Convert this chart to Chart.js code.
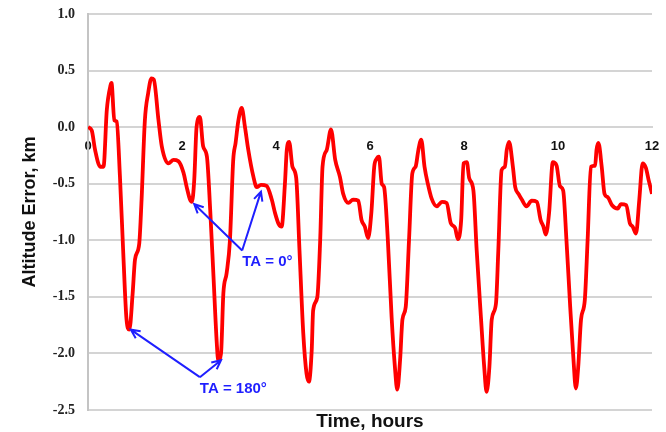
<!DOCTYPE html>
<html lang="en">
<head>
    <meta charset="UTF-8">
    <title>Altitude Error</title>
    <script src="https://cdn.jsdelivr.net/npm/chart.js"></script>
    <style>
        html, body { margin: 0; padding: 0; background: #fff; }
        #wrap { width: 666px; height: 432px; }
    </style>
</head>
<body>
<div id="wrap"><canvas id="altChart"></canvas></div>
<script>
    // time, hours
    const times = [
        0.00, 0.08, 0.15, 0.26, 0.33, 0.40, 0.48, 0.50, 0.56, 0.61, 0.68, 0.75, 0.82, 0.88, 0.95,
        1.00, 1.09, 1.14, 1.21, 1.28, 1.35, 1.40, 1.50, 1.57, 1.71, 1.82, 1.92,
        2.03, 2.10, 2.17, 2.21, 2.26, 2.31, 2.38, 2.45, 2.53, 2.60, 2.67, 2.74, 2.77, 2.83, 2.88, 2.95,
        3.02, 3.09, 3.14, 3.20, 3.27, 3.34, 3.41, 3.52, 3.59, 3.68, 3.80, 3.91, 3.98,
        4.06, 4.12, 4.19, 4.23, 4.28, 4.35, 4.43, 4.50, 4.58, 4.65, 4.70, 4.76, 4.79, 4.88, 4.94, 4.99,
        5.08, 5.17, 5.26, 5.36, 5.43, 5.54, 5.64, 5.75, 5.82, 5.89, 5.96,
        6.03, 6.09, 6.14, 6.19, 6.25, 6.30, 6.38, 6.46, 6.53, 6.58, 6.64, 6.69, 6.76, 6.83, 6.90, 6.97,
        7.03, 7.09, 7.16, 7.23, 7.31, 7.42, 7.53, 7.63, 7.72, 7.81, 7.87, 7.94, 7.99,
        8.06, 8.11, 8.20, 8.27, 8.36, 8.43, 8.48, 8.54, 8.59, 8.68, 8.73, 8.80, 8.87, 8.91, 8.96,
        9.04, 9.09, 9.16, 9.23, 9.33, 9.44, 9.55, 9.63, 9.69, 9.74, 9.81, 9.89, 9.97,
        10.04, 10.11, 10.18, 10.26, 10.33, 10.38, 10.43, 10.49, 10.57, 10.63, 10.70, 10.79, 10.82, 10.86, 10.93, 10.99,
        11.06, 11.15, 11.27, 11.34, 11.45, 11.53, 11.59, 11.66, 11.73, 11.80, 11.87, 11.93, 12.00
    ];
    // altitude error, km
    const altError = [
        0.00, -0.03, -0.20, -0.35, -0.35, 0.15, 0.37, 0.39, 0.06, 0.05, -0.44, -1.11, -1.70, -1.79, -1.47,
        -1.17, -1.03, -0.64, 0.06, 0.30, 0.43, 0.42, 0.06, -0.17, -0.32, -0.29, -0.30,
        -0.40, -0.53, -0.64, -0.66, -0.47, 0.00, 0.09, -0.17, -0.26, -0.73, -1.32, -1.91, -2.06, -2.00, -1.47, -1.29,
        -1.00, -0.29, -0.14, 0.06, 0.17, 0.00, -0.20, -0.44, -0.53, -0.51, -0.52, -0.64, -0.76,
        -0.86, -0.88, -0.50, -0.20, -0.13, -0.35, -0.45, -1.09, -1.82, -2.18, -2.25, -1.97, -1.62, -1.50, -1.00, -0.35,
        -0.20, -0.02, -0.29, -0.44, -0.59, -0.67, -0.64, -0.65, -0.82, -0.88, -0.98,
        -0.75, -0.35, -0.28, -0.26, -0.50, -0.53, -1.00, -1.68, -2.12, -2.32, -2.06, -1.70, -1.59, -1.00, -0.41, -0.35,
        -0.20, -0.11, -0.35, -0.50, -0.63, -0.70, -0.66, -0.67, -0.85, -0.89, -0.99, -0.82, -0.32,
        -0.31, -0.45, -0.56, -1.09, -1.68, -2.12, -2.34, -2.12, -1.70, -1.56, -1.09, -0.38, -0.35, -0.20, -0.13,
        -0.35, -0.53, -0.59, -0.64, -0.70, -0.65, -0.66, -0.82, -0.88, -0.95, -0.76, -0.31, -0.34,
        -0.52, -0.56, -1.00, -1.59, -2.06, -2.31, -2.12, -1.70, -1.53, -1.00, -0.35, -0.34, -0.20, -0.14, -0.35, -0.59,
        -0.62, -0.69, -0.72, -0.68, -0.69, -0.85, -0.88, -0.94, -0.64, -0.32, -0.36, -0.47, -0.59
    ];

    const xTicks = [0, 2, 4, 6, 8, 10, 12];
    const yTicks = [1.0, 0.5, 0.0, -0.5, -1.0, -1.5, -2.0, -2.5];

    // annotation arrows (data coords): tail -> tip
    const arrowTailT = [3.28, 3.28, 2.38, 2.38];
    const arrowTailV = [-1.09, -1.09, -2.21, -2.21];
    const arrowTipT = [2.26, 3.68, 0.91, 2.83];
    const arrowTipV = [-0.68, -0.57, -1.79, -2.06];
    const noteText = ['TA = 0°', 'TA = 180°'];
    const noteT = [3.28, 2.38];
    const noteV = [-1.19, -2.31];

    const blue = '#1f1fff';
    const gridGray = '#d4d4d4';
    const sans = '"Liberation Sans", Arial, sans-serif';

    const noPad = (s) => { s.paddingTop = 0; s.paddingBottom = 0; s.paddingLeft = 0; s.paddingRight = 0; };

    const arrowPlugin = {
        id: 'arrows',
        afterDatasetsDraw(chart) {
            const ctx = chart.ctx;
            const xs = chart.scales.x, ys = chart.scales.y;
            ctx.save();
            ctx.strokeStyle = blue;
            ctx.lineWidth = 2;
            for (let i = 0; i < arrowTailT.length; i++) {
                const x0 = xs.getPixelForValue(arrowTailT[i]), y0 = ys.getPixelForValue(arrowTailV[i]);
                const x1 = xs.getPixelForValue(arrowTipT[i]), y1 = ys.getPixelForValue(arrowTipV[i]);
                const a = Math.atan2(y1 - y0, x1 - x0);
                ctx.beginPath();
                ctx.moveTo(x0, y0);
                ctx.lineTo(x1, y1);
                ctx.moveTo(x1 - 10 * Math.cos(a - 0.45), y1 - 10 * Math.sin(a - 0.45));
                ctx.lineTo(x1, y1);
                ctx.lineTo(x1 - 10 * Math.cos(a + 0.45), y1 - 10 * Math.sin(a + 0.45));
                ctx.stroke();
            }
            ctx.fillStyle = blue;
            ctx.font = 'bold 15px ' + sans;
            ctx.textAlign = 'left';
            ctx.textBaseline = 'middle';
            for (let i = 0; i < noteText.length; i++) {
                ctx.fillText(noteText[i], xs.getPixelForValue(noteT[i]), ys.getPixelForValue(noteV[i]));
            }
            ctx.restore();
        }
    };

    const ctx = document.getElementById('altChart').getContext('2d');
    const altChart = new Chart(ctx, {
        type: 'line',
        data: {
            datasets: [{
                data: times.map((t, i) => ({ x: t, y: altError[i] })),
                borderColor: '#ff0000',
                borderWidth: 3.8,
                pointRadius: 0,
                cubicInterpolationMode: 'monotone',
                fill: false
            }]
        },
        options: {
            responsive: true,
            maintainAspectRatio: false,
            animation: false,
            layout: { padding: { top: 14, right: 14, left: 0, bottom: 0 } },
            plugins: {
                legend: { display: false },
                tooltip: { enabled: false }
            },
            scales: {
                x: {
                    type: 'linear',
                    position: { y: 0 },
                    min: 0,
                    max: 12,
                    afterBuildTicks: (s) => { s.ticks = xTicks.map(v => ({ value: v })); },
                    afterFit: noPad,
                    grid: { display: false, drawTicks: false },
                    border: { color: gridGray, width: 2 },
                    ticks: {
                        padding: 11,
                        color: '#111',
                        maxRotation: 0,
                        font: { family: sans, size: 13, weight: 'bold' }
                    }
                },
                xTitle: {
                    type: 'linear',
                    position: 'bottom',
                    min: 0,
                    max: 12,
                    grid: { display: false, drawTicks: false },
                    border: { display: false },
                    ticks: { display: false },
                    afterFit: (s) => { noPad(s); s.height = 22; },
                    title: {
                        display: true,
                        text: 'Time, hours',
                        color: '#111',
                        padding: { top: 0, bottom: 0 },
                        font: { family: sans, size: 19, weight: 'bold', lineHeight: 1.1 }
                    }
                },
                y: {
                    min: -2.5,
                    max: 1.0,
                    afterBuildTicks: (s) => { s.ticks = yTicks.map(v => ({ value: v })); },
                    afterFit: (s) => { noPad(s); s.width = 88; },
                    grid: { color: gridGray, lineWidth: 2, drawTicks: false },
                    border: { color: '#c4c4c4', width: 2 },
                    ticks: {
                        padding: 13,
                        color: '#222',
                        callback: (v) => Number(v).toFixed(1),
                        font: { family: '"Liberation Serif", "Times New Roman", serif', size: 14, weight: 'bold' }
                    },
                    title: {
                        display: true,
                        text: 'Altitude Error, km',
                        color: '#111',
                        padding: { top: 19, bottom: 0 },
                        font: { family: sans, size: 18, weight: 'bold' }
                    }
                }
            }
        },
        plugins: [arrowPlugin]
    });
</script>
</body>
</html>
